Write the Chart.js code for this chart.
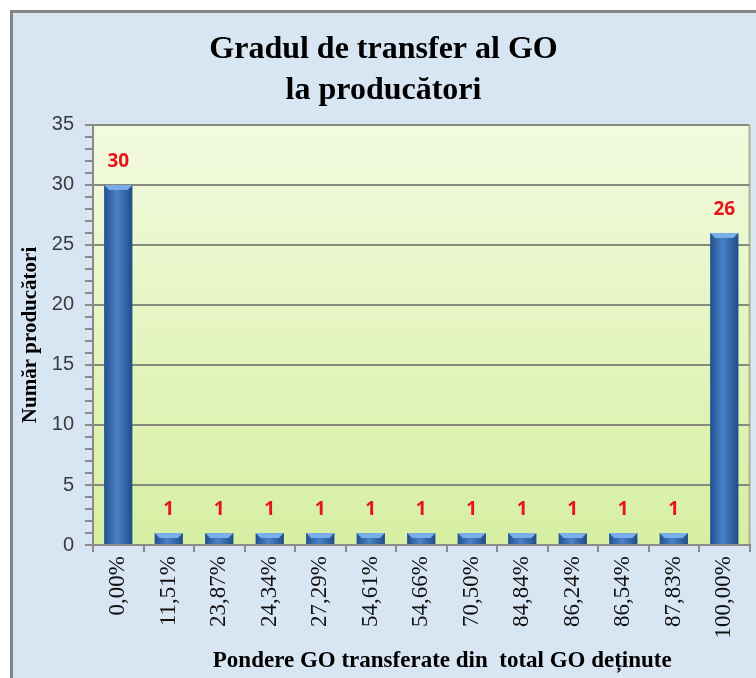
<!DOCTYPE html>
<html>
<head>
<meta charset="utf-8">
<script src="https://cdn.jsdelivr.net/npm/chart.js@4.4.1/dist/chart.umd.min.js"></script>
<style>
  html, body { margin: 0; padding: 0; background: #ffffff; }
  #wrap { position: relative; width: 756px; height: 678px; }
</style>
</head>
<body>
<div id="wrap"><canvas id="chart" width="756" height="678"></canvas></div>
<script>
// date din grafic
const categories = ['0,00%', '11,51%', '23,87%', '24,34%', '27,29%', '54,61%', '54,66%',
                    '70,50%', '84,84%', '86,24%', '86,54%', '87,83%', '100,00%'];
const producers = [30, 1, 1, 1, 1, 1, 1, 1, 1, 1, 1, 1, 26];
const yMax = 35;
const yMajorStep = 5;
const xTitle = 'Pondere GO transferate din  total GO deținute';

const barPct = 0.56;
const serif = '"Liberation Serif", "Times New Roman", serif';

// fundal albastru + chenar, zona graficului verde
const backgroundPlugin = {
    id: 'background',
    beforeDraw(chart) {
        const { ctx, chartArea: a } = chart;
        ctx.save();
        ctx.fillStyle = '#ffffff';
        ctx.fillRect(0, 0, chart.width, chart.height);
        ctx.fillStyle = '#d8e5f2';
        ctx.fillRect(10, 10, chart.width, chart.height);
        ctx.strokeStyle = '#858585';
        ctx.lineWidth = 3;
        ctx.beginPath();
        ctx.moveTo(11.5, chart.height);
        ctx.lineTo(11.5, 11.5);
        ctx.lineTo(chart.width, 11.5);
        ctx.stroke();

        const g = ctx.createLinearGradient(0, a.top, 0, a.bottom);
        g.addColorStop(0, '#f3fadf');
        g.addColorStop(1, '#d6efa2');
        ctx.fillStyle = g;
        ctx.fillRect(a.left, a.top, a.right - a.left, a.bottom - a.top);
        ctx.strokeStyle = '#a9b68f';
        ctx.lineWidth = 2;
        ctx.beginPath();
        ctx.moveTo(a.right, a.top);
        ctx.lineTo(a.right, a.bottom);
        ctx.stroke();
        ctx.restore();
    }
};

// capac luminos + etichete rosii deasupra barelor, titlul axei X
const barLabelsPlugin = {
    id: 'barLabels',
    afterDatasetsDraw(chart) {
        const ctx = chart.ctx;
        const meta = chart.getDatasetMeta(0);
        ctx.save();
        meta.data.forEach((bar, i) => {
            const half = bar.width / 2;
            ctx.fillStyle = '#79aee8';
            ctx.beginPath();
            ctx.moveTo(bar.x - half, bar.y);
            ctx.lineTo(bar.x + half, bar.y);
            ctx.lineTo(bar.x + half - 5, bar.y + 5);
            ctx.lineTo(bar.x - half + 5, bar.y + 5);
            ctx.closePath();
            ctx.fill();

            ctx.fillStyle = '#e8141b';
            ctx.font = 'bold 19px "Open Sans", "Liberation Sans", sans-serif';
            ctx.textAlign = 'center';
            ctx.textBaseline = 'middle';
            ctx.fillText(String(producers[i]), bar.x, bar.y - 23);
        });

        // in original titlul axei X e deplasat spre dreapta
        const xs = chart.scales.x;
        ctx.fillStyle = '#000000';
        ctx.font = 'bold 23px ' + serif;
        ctx.textAlign = 'center';
        ctx.textBaseline = 'middle';
        ctx.fillText(xTitle, (xs.left + xs.right) / 2 + 21, xs.bottom - 13);
        ctx.restore();
    }
};

const ctx = document.getElementById('chart').getContext('2d');

new Chart(ctx, {
    type: 'bar',
    data: {
        labels: categories,
        datasets: [{
            data: producers,
            barPercentage: barPct,
            categoryPercentage: 1,
            backgroundColor: (c) => {
                const chart = c.chart;
                const xs = chart.scales.x;
                if (!xs || c.dataIndex === undefined) return '#3b6fb2';
                const cx = xs.getPixelForValue(c.dataIndex);
                const half = xs.width / categories.length * barPct / 2;
                if (!isFinite(cx) || !isFinite(half)) return '#3b6fb2';
                const g = chart.ctx.createLinearGradient(cx - half, 0, cx + half, 0);
                g.addColorStop(0, '#21508e');
                g.addColorStop(0.45, '#4a82c8');
                g.addColorStop(1, '#1f4c88');
                return g;
            },
            borderWidth: 0
        }]
    },
    options: {
        responsive: false,
        animation: false,
        devicePixelRatio: 1,
        layout: { padding: { left: 14, right: 3, top: 0, bottom: 4 } },
        plugins: {
            legend: { display: false },
            tooltip: { enabled: false },
            title: {
                display: true,
                text: ['Gradul de transfer al GO', 'la producători'],
                color: '#000000',
                font: { family: serif, size: 32, weight: 'bold', lineHeight: 1.28 },
                padding: { top: 29, bottom: 14 }
            }
        },
        scales: {
            x: {
                grid: {
                    drawOnChartArea: false,
                    color: '#8a8a8a',
                    tickLength: 7,
                    lineWidth: 2
                },
                border: { color: '#8a8a8a', width: 2 },
                ticks: {
                    minRotation: 90,
                    maxRotation: 90,
                    autoSkip: false,
                    padding: 4,
                    color: '#111111',
                    font: { family: serif, size: 23 }
                },
                title: { display: false },
                afterFit: (scale) => { scale.height = 129; }
            },
            y: {
                min: 0,
                max: yMax,
                grid: {
                    color: (c) => (c.tick && c.tick.value % yMajorStep === 0) ? '#878a7c' : 'rgba(0,0,0,0)',
                    tickColor: '#8a8a8a',
                    tickLength: 8,
                    lineWidth: 2
                },
                border: { color: '#8a8a8a', width: 2 },
                ticks: {
                    stepSize: 1,
                    maxTicksLimit: 50,
                    autoSkip: false,
                    padding: 11,
                    color: '#3a3a3a',
                    font: { family: '"Liberation Sans", Arial, sans-serif', size: 20 },
                    callback: (v) => (v % yMajorStep === 0 ? v : '')
                },
                title: {
                    display: true,
                    text: 'Număr producători',
                    color: '#000000',
                    font: { family: serif, size: 21, weight: 'bold' },
                    padding: { top: 4, bottom: 0 }
                },
                afterFit: (scale) => { scale.width = 79; }
            }
        }
    },
    plugins: [backgroundPlugin, barLabelsPlugin]
});
</script>
</body>
</html>
